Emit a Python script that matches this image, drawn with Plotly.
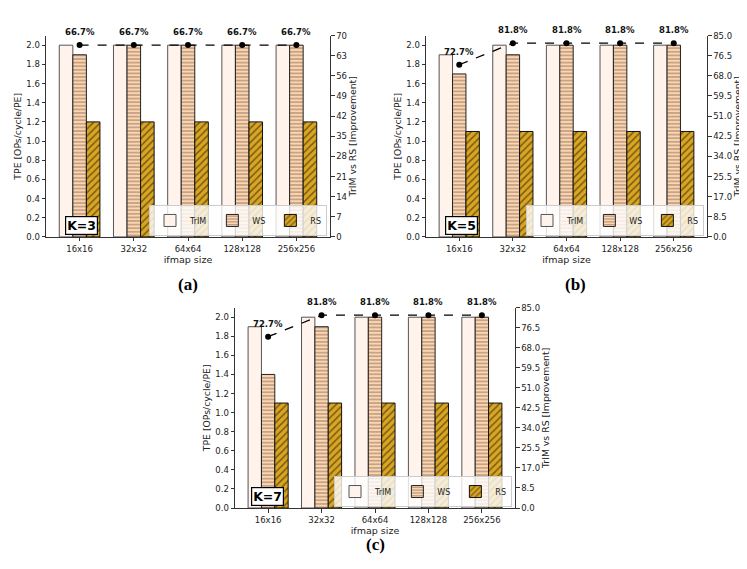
import plotly.graph_objects as go

# ---------------- data ----------------
categories = ["16x16", "32x32", "64x64", "128x128", "256x256"]

trim_k3 = [2.0, 2.0, 2.0, 2.0, 2.0]
ws_k3 = [1.9, 2.0, 2.0, 2.0, 2.0]
rs_k3 = [1.2, 1.2, 1.2, 1.2, 1.2]
imp_k3 = [66.7, 66.7, 66.7, 66.7, 66.7]

trim_k5 = [1.9, 2.0, 2.0, 2.0, 2.0]
ws_k5 = [1.7, 1.9, 2.0, 2.0, 2.0]
rs_k5 = [1.1, 1.1, 1.1, 1.1, 1.1]
imp_k5 = [72.7, 81.8, 81.8, 81.8, 81.8]

trim_k7 = [1.9, 2.0, 2.0, 2.0, 2.0]
ws_k7 = [1.4, 1.9, 2.0, 2.0, 2.0]
rs_k7 = [1.1, 1.1, 1.1, 1.1, 1.1]
imp_k7 = [72.7, 81.8, 81.8, 81.8, 81.8]

series_names = ["TrIM", "WS", "RS"]
panel_labels = ["K=3", "K=5", "K=7"]
captions = ["(a)", "(b)", "(c)"]

# ---------------- layout helpers ----------------
PAGE_OFF = 8          # default body margin of the html page
W, H = 747 - PAGE_OFF, 569 - PAGE_OFF
def px(x):
    return (x - PAGE_OFF) / W
def py(y):
    return 1 - (y - PAGE_OFF) / H

panels = [
    dict(x="x", y="y", y2="y2", xd=(46, 330), yd=(31, 236), rmax=70, rstep=7, rfmt="d",
         data=(trim_k3, ws_k3, rs_k3, imp_k3), leg="legend",
         legpos=(327, 235), kpos=(81, 224), cap=(188, 284)),
    dict(x="x2", y="y3", y2="y4", xd=(426, 707), yd=(31, 236), rmax=85, rstep=8.5, rfmt=".1f",
         data=(trim_k5, ws_k5, rs_k5, imp_k5), leg="legend2",
         legpos=(704, 235), kpos=(461, 224), cap=(575, 284)),
    dict(x="x3", y="y5", y2="y6", xd=(235, 515), yd=(308, 512), rmax=85, rstep=8.5, rfmt=".1f",
         data=(trim_k7, ws_k7, rs_k7, imp_k7), leg="legend3",
         legpos=(512, 511), kpos=(267, 500), cap=(375, 549)),
]

styles = [
    dict(color="#fff3ec", line="#555555", pattern=None),
    dict(color="#ffd4ae", line="#222222",
         pattern=dict(shape="-", fgcolor="#333333", fillmode="overlay", size=3.6, solidity=0.3)),
    dict(color="#daa520", line="#111111",
         pattern=dict(shape="/", fgcolor="#111111", fillmode="overlay", size=5, solidity=0.3)),
]
offsets = [-0.375, -0.125, 0.125]

fig = go.Figure()
annotations = []
layout = dict(width=W, height=H, margin=dict(l=0, r=0, t=0, b=0),
              paper_bgcolor="white", plot_bgcolor="white", barmode="overlay",
              font=dict(family="DejaVu Sans", color="#222222"))

for i, p in enumerate(panels):
    trim, ws, rs, imp = p["data"]
    for j, vals in enumerate((trim, ws, rs)):
        st = styles[j]
        marker = dict(color=st["color"], line=dict(color=st["line"], width=1))
        if st["pattern"]:
            marker["pattern"] = st["pattern"]
        fig.add_trace(go.Bar(
            x=categories, y=vals, name=series_names[j], xaxis=p["x"], yaxis=p["y"],
            width=0.25, offset=offsets[j], marker=marker, legend=p["leg"],
            showlegend=True, hoverinfo="skip"))
    fig.add_trace(go.Scatter(
        x=categories, y=imp, xaxis=p["x"], yaxis=p["y2"], mode="lines+markers",
        line=dict(color="black", dash="dash", width=1.3),
        marker=dict(size=6, color="black"), showlegend=False, hoverinfo="skip"))
    for c, v in zip(categories, imp):
        annotations.append(dict(x=c, y=v, xref=p["x"], yref=p["y2"], text=f"<b>{v:.1f}%</b>",
                                showarrow=False, yshift=13, xanchor="center", yanchor="middle",
                                font=dict(size=8.5, color="#111111", family="DejaVu Sans")))

    xk = "xaxis" if p["x"] == "x" else "xaxis" + p["x"][1:]
    yk = "yaxis" if p["y"] == "y" else "yaxis" + p["y"][1:]
    y2k = "yaxis" + p["y2"][1:]
    axcommon = dict(showline=True, linecolor="#333333", linewidth=1, ticks="outside",
                    ticklen=3.5, tickcolor="#333333", tickfont=dict(size=8.5, color="#222222"),
                    showgrid=False, zeroline=False)
    layout[xk] = dict(domain=[px(p["xd"][0]), px(p["xd"][1])], anchor=p["y"], type="category",
                      range=[-0.62, 4.62],
                      title=dict(text="ifmap size", font=dict(size=9.5), standoff=2), **axcommon)
    layout[yk] = dict(domain=[py(p["yd"][1]), py(p["yd"][0])], anchor=p["x"], range=[0, 2.1],
                      tick0=0, dtick=0.2, tickformat=".1f",
                      title=dict(text="TPE [OPs/cycle/PE]", font=dict(size=9.3), standoff=3),
                      **axcommon)
    layout[y2k] = dict(overlaying=p["y"], side="right", anchor=p["x"], range=[0, p["rmax"]],
                       tick0=0, dtick=p["rstep"], tickformat=p["rfmt"],
                       title=dict(text="TrIM vs RS [Improvement]", font=dict(size=9.3), standoff=2),
                       **axcommon)
    layout[p["leg"]] = dict(orientation="h", x=px(p["legpos"][0]), xanchor="right",
                            y=py(p["legpos"][1]), yanchor="bottom",
                            bgcolor="rgba(255,255,255,0.8)", bordercolor="#cccccc", borderwidth=1,
                            font=dict(size=8, color="#222222"), itemwidth=30,
                            tracegroupgap=0, itemclick=False)
    annotations.append(dict(x=px(p["kpos"][0]), y=py(p["kpos"][1]), xref="paper", yref="paper",
                            xanchor="center", yanchor="middle",
                            text=f"<b>{panel_labels[i]}</b>", showarrow=False,
                            bgcolor="white", bordercolor="black", borderwidth=1.2, borderpad=1,
                            font=dict(size=12.5, color="black", family="DejaVu Sans")))
    annotations.append(dict(x=px(p["cap"][0]), y=py(p["cap"][1]), xref="paper", yref="paper",
                            xanchor="center", yanchor="middle",
                            text=f"<b>{captions[i]}</b>", showarrow=False,
                            font=dict(size=17, color="black", family="Liberation Serif")))

layout["annotations"] = annotations
fig.update_layout(**layout)
fig.write_html("out.html")
